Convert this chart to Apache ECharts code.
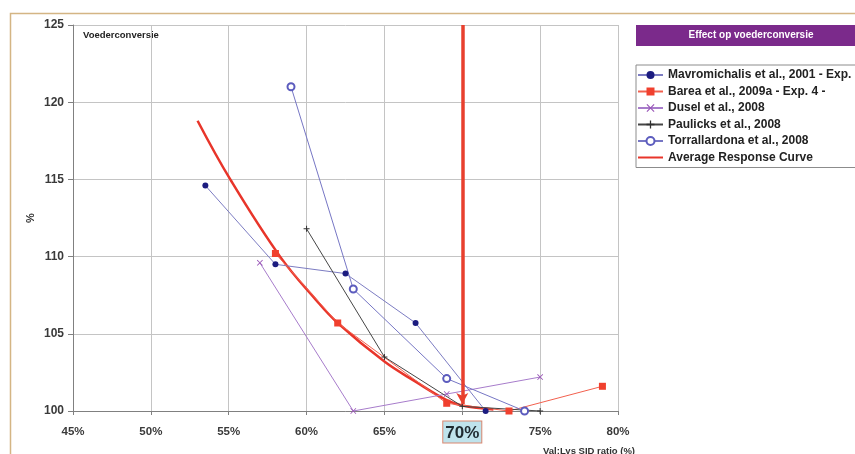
<!DOCTYPE html>
<html><head><meta charset="utf-8">
<script src="https://cdn.jsdelivr.net/npm/echarts@6/dist/echarts.min.js"></script>
<style>html,body{margin:0;padding:0;background:#fff;overflow:hidden}#c{width:855px;height:454px;}</style>
</head><body><div id="c"></div>
<script>
// ---- data ----
const xTicks = [45, 50, 55, 60, 65, 70, 75, 80];
const yTicks = [100, 105, 110, 115, 120, 125];

const mavroX = [53.5, 58, 62.5, 67, 71.5];
const mavroY = [114.6, 109.5, 108.9, 105.7, 100.0];

const bareaX = [58, 62, 69, 73, 79];
const bareaY = [110.2, 105.7, 100.5, 100.0, 101.6];

const duselX = [57, 63, 69, 75];
const duselY = [109.6, 100.0, 101.1, 102.2];

const paulX = [60, 65, 70, 75];
const paulY = [111.8, 103.5, 100.3, 100.0];

const torrX = [59, 63, 69, 74];
const torrY = [121.0, 107.9, 102.1, 100.0];

const avgX = [53, 55.1, 58.3, 60.6, 62, 65, 67, 69, 70, 72];
const avgY = [118.8, 115.0, 110.0, 107.2, 105.7, 103.2, 101.9, 100.7, 100.35, 100.1];

const arrowX = 70;
const arrowY = [125, 100.45];

const names = [
  'Mavromichalis et al., 2001 - Exp. 5',
  'Barea et al., 2009a - Exp. 4 -',
  'Dusel et al., 2008',
  'Paulicks et al., 2008',
  'Torrallardona et al., 2008',
  'Average Response Curve'
];

const zip = (xs, ys) => xs.map((x, i) => [x, ys[i]]);
const FF = '"Liberation Sans", Arial, sans-serif';
const crossX = 'path://M1,0L5,4L9,0L10,1L6,5L10,9L9,10L5,6L1,10L0,9L4,5L0,1Z';
const crossP = 'path://M4.2,0H5.8V4.2H10V5.8H5.8V10H4.2V5.8H0V4.2H4.2Z';

const chart = echarts.init(document.getElementById('c'), null, {renderer: 'canvas'});
chart.setOption({
  animation: false,
  backgroundColor: '#fff',
  textStyle: {fontFamily: FF},
  grid: {left: 73, top: 25, width: 545, height: 386},
  xAxis: {
    type: 'value', min: 45, max: 80, interval: 5,
    axisLine: {show: true, lineStyle: {color: '#808080', width: 1}},
    axisTick: {show: true, length: 4, lineStyle: {color: '#808080'}},
    splitLine: {show: true, lineStyle: {color: '#C4C4C4', width: 1}},
    axisLabel: {
      margin: 21, verticalAlign: 'middle',
      fontFamily: FF, fontSize: 11.5, fontWeight: 'bold', color: '#3a3a3a',
      formatter: v => v === 70 ? '{hi|70%}' : v + '%',
      rich: {
        hi: {fontFamily: FF, fontSize: 17, fontWeight: 'bold', color: '#1f2a30',
             backgroundColor: '#BFE3EC', borderColor: '#D98770', borderWidth: 1,
             padding: [3, 2, 1, 2]}
      }
    }
  },
  yAxis: {
    type: 'value', min: 100, max: 125, interval: 5,
    axisLine: {show: true, lineStyle: {color: '#808080', width: 1}},
    axisTick: {show: true, length: 5, lineStyle: {color: '#808080'}},
    splitLine: {show: true, lineStyle: {color: '#C4C4C4', width: 1}},
    axisLabel: {margin: 9, fontFamily: FF, fontSize: 12, fontWeight: 'bold', color: '#3a3a3a'}
  },
  legend: {
    orient: 'vertical', left: 636, top: 65,
    data: names.slice(0, 5).concat([{name: names[5], itemStyle: {opacity: 0}}]),
    itemWidth: 25, itemHeight: 10, itemGap: 2.5,
    padding: [3, 6, 3, 1],
    borderColor: '#8c8c8c', borderWidth: 1, backgroundColor: '#fff',
    textStyle: {fontFamily: FF, fontSize: 12, fontWeight: 'bold', color: '#222', lineHeight: 14},
    selectedMode: false
  },
  graphic: [
    {type: 'rect', z: -10, silent: true, shape: {x: 10.5, y: 13.5, width: 900, height: 500},
     style: {fill: 'none', stroke: '#D4B584', lineWidth: 1.5}},
    {type: 'rect', silent: true, shape: {x: 636, y: 25, width: 230, height: 21},
     style: {fill: '#7B2A8B'}},
    {type: 'text', silent: true, x: 751, y: 35.5,
     style: {text: 'Effect op voederconversie', fill: '#fff', font: 'bold 10px ' + FF,
             align: 'center', verticalAlign: 'middle'}},
    {type: 'text', silent: true, x: 83, y: 35,
     style: {text: 'Voederconversie', fill: '#222', font: 'bold 9.5px ' + FF,
             align: 'left', verticalAlign: 'middle'}},
    {type: 'text', silent: true, x: 31, y: 218, rotation: Math.PI / 2,
     style: {text: '%', fill: '#333', font: 'bold 11px ' + FF,
             align: 'center', verticalAlign: 'middle'}},
    {type: 'text', silent: true, x: 543, y: 451,
     style: {text: 'Val:Lys SID ratio (%)', fill: '#333', font: 'bold 9.5px ' + FF,
             align: 'left', verticalAlign: 'middle'}}
  ],
  series: [
    {name: names[5], type: 'line', data: zip(avgX, avgY), smooth: 0.4, symbol: 'none',
     lineStyle: {color: '#E8352A', width: 2.5}, itemStyle: {color: '#E8352A'}, z: 3},
    {name: names[0], type: 'line', data: zip(mavroX, mavroY), symbol: 'circle', symbolSize: 6,
     lineStyle: {color: '#7C7CC2', width: 1}, itemStyle: {color: '#1C1C80'}, z: 4},
    {name: names[1], type: 'line', data: zip(bareaX, bareaY), symbol: 'rect', symbolSize: 7,
     lineStyle: {color: '#F2604E', width: 1}, itemStyle: {color: '#F0402E'}, z: 4},
    {name: names[2], type: 'line', data: zip(duselX, duselY), symbol: crossX, symbolSize: 6,
     lineStyle: {color: '#A77CCB', width: 1}, itemStyle: {color: '#9A56B8'}, z: 4},
    {name: names[3], type: 'line', data: zip(paulX, paulY), symbol: crossP, symbolSize: 6,
     lineStyle: {color: '#454545', width: 1}, itemStyle: {color: '#303030'}, z: 4},
    {name: names[4], type: 'line', data: zip(torrX, torrY), symbol: 'emptyCircle', symbolSize: 7,
     lineStyle: {color: '#7676C4', width: 1}, itemStyle: {color: '#5C5CBE', borderWidth: 1}, z: 4},
    {name: 'arrow', type: 'line', data: [[arrowX, 112]], symbol: 'none', lineStyle: {opacity: 0}, z: 6,
     markLine: {
       silent: true, symbol: ['none', 'arrow'], symbolSize: [9, 11],
       label: {show: false},
       lineStyle: {color: '#E8402E', width: 3.5, type: 'solid'},
       data: [[{coord: [arrowX, arrowY[0]]}, {coord: [arrowX, arrowY[1]]}]]
     }}
  ]
});
</script></body></html>
